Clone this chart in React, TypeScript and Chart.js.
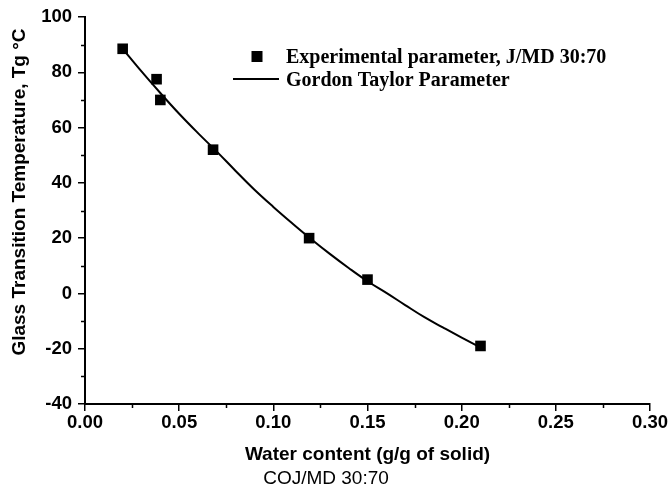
import React, { useEffect, useRef } from "react";
import { Chart, registerables } from "chart.js";

Chart.register(...registerables);

// Experimental data (water content g/g solid, Tg °C)
const expX = [0.02, 0.038, 0.04, 0.068, 0.119, 0.15, 0.21];
const expY = [88.5, 77.5, 70, 52, 20, 5, -19];

// Gordon Taylor curve
const gtX = [0.02, 0.03, 0.04, 0.05, 0.06, 0.07, 0.08, 0.09, 0.1, 0.11, 0.12, 0.13, 0.14, 0.15, 0.16, 0.17, 0.18, 0.19, 0.2, 0.21];
const gtY = [88.5, 80.3, 72.5, 65.0, 58.0, 51.3, 44.3, 37.5, 31.3, 25.4, 19.7, 14.3, 9.2, 4.4, 0.2, -4.2, -8.5, -12.3, -16.0, -19.5];

const yTicksMinor = [-30, -10, 10, 30, 50, 70, 90];
const xTicksMinor = [0.025, 0.075, 0.125, 0.175, 0.225, 0.275];

const legendLabels = ["Experimental parameter, J/MD 30:70", "Gordon Taylor Parameter"];
const xTitle = "Water content (g/g of solid)";
const yTitle = "Glass Transition Temperature, Tg °C";
const caption = "COJ/MD 30:70";

const SANS = "Arial, 'Liberation Sans', sans-serif";
const SERIF = "'Times New Roman', 'Liberation Serif', serif";

const extrasPlugin = {
  id: "extras",
  afterDraw(chart: any) {
    const { ctx, chartArea, scales } = chart;
    const xs = scales.x;
    const ys = scales.y;
    ctx.save();
    // minor ticks
    ctx.strokeStyle = "#000";
    ctx.lineWidth = 1.5;
    ctx.beginPath();
    for (const v of yTicksMinor) {
      const py = Math.round(ys.getPixelForValue(v)) + 0.5;
      ctx.moveTo(chartArea.left, py);
      ctx.lineTo(chartArea.left - 4, py);
    }
    for (const v of xTicksMinor) {
      const px = Math.round(xs.getPixelForValue(v)) + 0.5;
      ctx.moveTo(px, chartArea.bottom);
      ctx.lineTo(px, chartArea.bottom + 4);
    }
    ctx.stroke();

    // axis titles
    ctx.fillStyle = "#000";
    ctx.textAlign = "center";
    ctx.textBaseline = "middle";
    ctx.font = `bold 19px ${SANS}`;
    ctx.fillText(xTitle, (chartArea.left + chartArea.right) / 2, 455);
    ctx.save();
    ctx.translate(20, 192);
    ctx.rotate(-Math.PI / 2);
    ctx.fillText(yTitle, 0, 0);
    ctx.restore();

    ctx.font = `19px ${SANS}`;
    ctx.fillText(caption, 326, 479);

    // legend
    const ds0 = chart.data.datasets[0];
    const ds1 = chart.data.datasets[1];
    ctx.fillStyle = ds0.backgroundColor;
    ctx.fillRect(257 - 5.5, 56.5 - 5.5, 11, 11);
    ctx.strokeStyle = ds1.borderColor;
    ctx.lineWidth = ds1.borderWidth;
    ctx.beginPath();
    ctx.moveTo(233, 79);
    ctx.lineTo(279, 79);
    ctx.stroke();
    ctx.fillStyle = "#000";
    ctx.textAlign = "left";
    ctx.textBaseline = "alphabetic";
    ctx.font = `bold 20px ${SERIF}`;
    ctx.fillText(legendLabels[0], 286, 63);
    ctx.fillText(legendLabels[1], 286, 86);
    ctx.restore();
  },
};

export default function App() {
  const ref = useRef<HTMLCanvasElement>(null);
  useEffect(() => {
    document.body.style.margin = "0";
    const chart = new Chart(ref.current!, {
      type: "scatter",
      data: {
        datasets: [
          {
            label: legendLabels[0],
            data: expX.map((x, i) => ({ x, y: expY[i] })),
            pointStyle: "rect",
            pointRadius: 7.5,
            backgroundColor: "#000",
            borderColor: "#000",
            borderWidth: 0,
            showLine: false,
            order: 0,
          },
          {
            label: legendLabels[1],
            data: gtX.map((x, i) => ({ x, y: gtY[i] })),
            showLine: true,
            pointRadius: 0,
            borderColor: "#000",
            backgroundColor: "#000",
            borderWidth: 2,
            tension: 0.4,
            order: 1,
          },
        ],
      },
      options: {
        animation: false,
        responsive: false,
        layout: { padding: { left: 0, top: 17, right: 18, bottom: 0 } },
        plugins: { legend: { display: false }, tooltip: { enabled: false } },
        scales: {
          x: {
            type: "linear",
            min: 0,
            max: 0.3,
            afterFit: (s: any) => {
              s.height = 91;
              s.paddingRight = 0;
              s.paddingLeft = 0;
            },
            ticks: {
              stepSize: 0.05,
              padding: 1,
              color: "#000",
              font: { family: SANS, size: 18.5, weight: "bold" },
              callback: (v: any) => Number(v).toFixed(2),
            },
            grid: { display: true, drawOnChartArea: false, drawTicks: true, tickLength: 7, color: "#000", lineWidth: 1.5 },
            border: { display: true, color: "#000", width: 2 },
          },
          y: {
            type: "linear",
            min: -40,
            max: 100,
            afterFit: (s: any) => {
              s.width = 85;
              s.paddingTop = 0;
              s.paddingBottom = 0;
            },
            ticks: {
              stepSize: 20,
              padding: 6,
              color: "#000",
              font: { family: SANS, size: 18.5, weight: "bold" },
            },
            grid: { display: true, drawOnChartArea: false, drawTicks: true, tickLength: 7, color: "#000", lineWidth: 1.5 },
            border: { display: true, color: "#000", width: 2 },
          },
        },
      },
      plugins: [extrasPlugin],
    });
    return () => chart.destroy();
  }, []);
  return (
    <div style={{ width: 668, height: 495, background: "#fff" }}>
      <canvas ref={ref} width={668} height={495} style={{ display: "block" }} />
    </div>
  );
}
